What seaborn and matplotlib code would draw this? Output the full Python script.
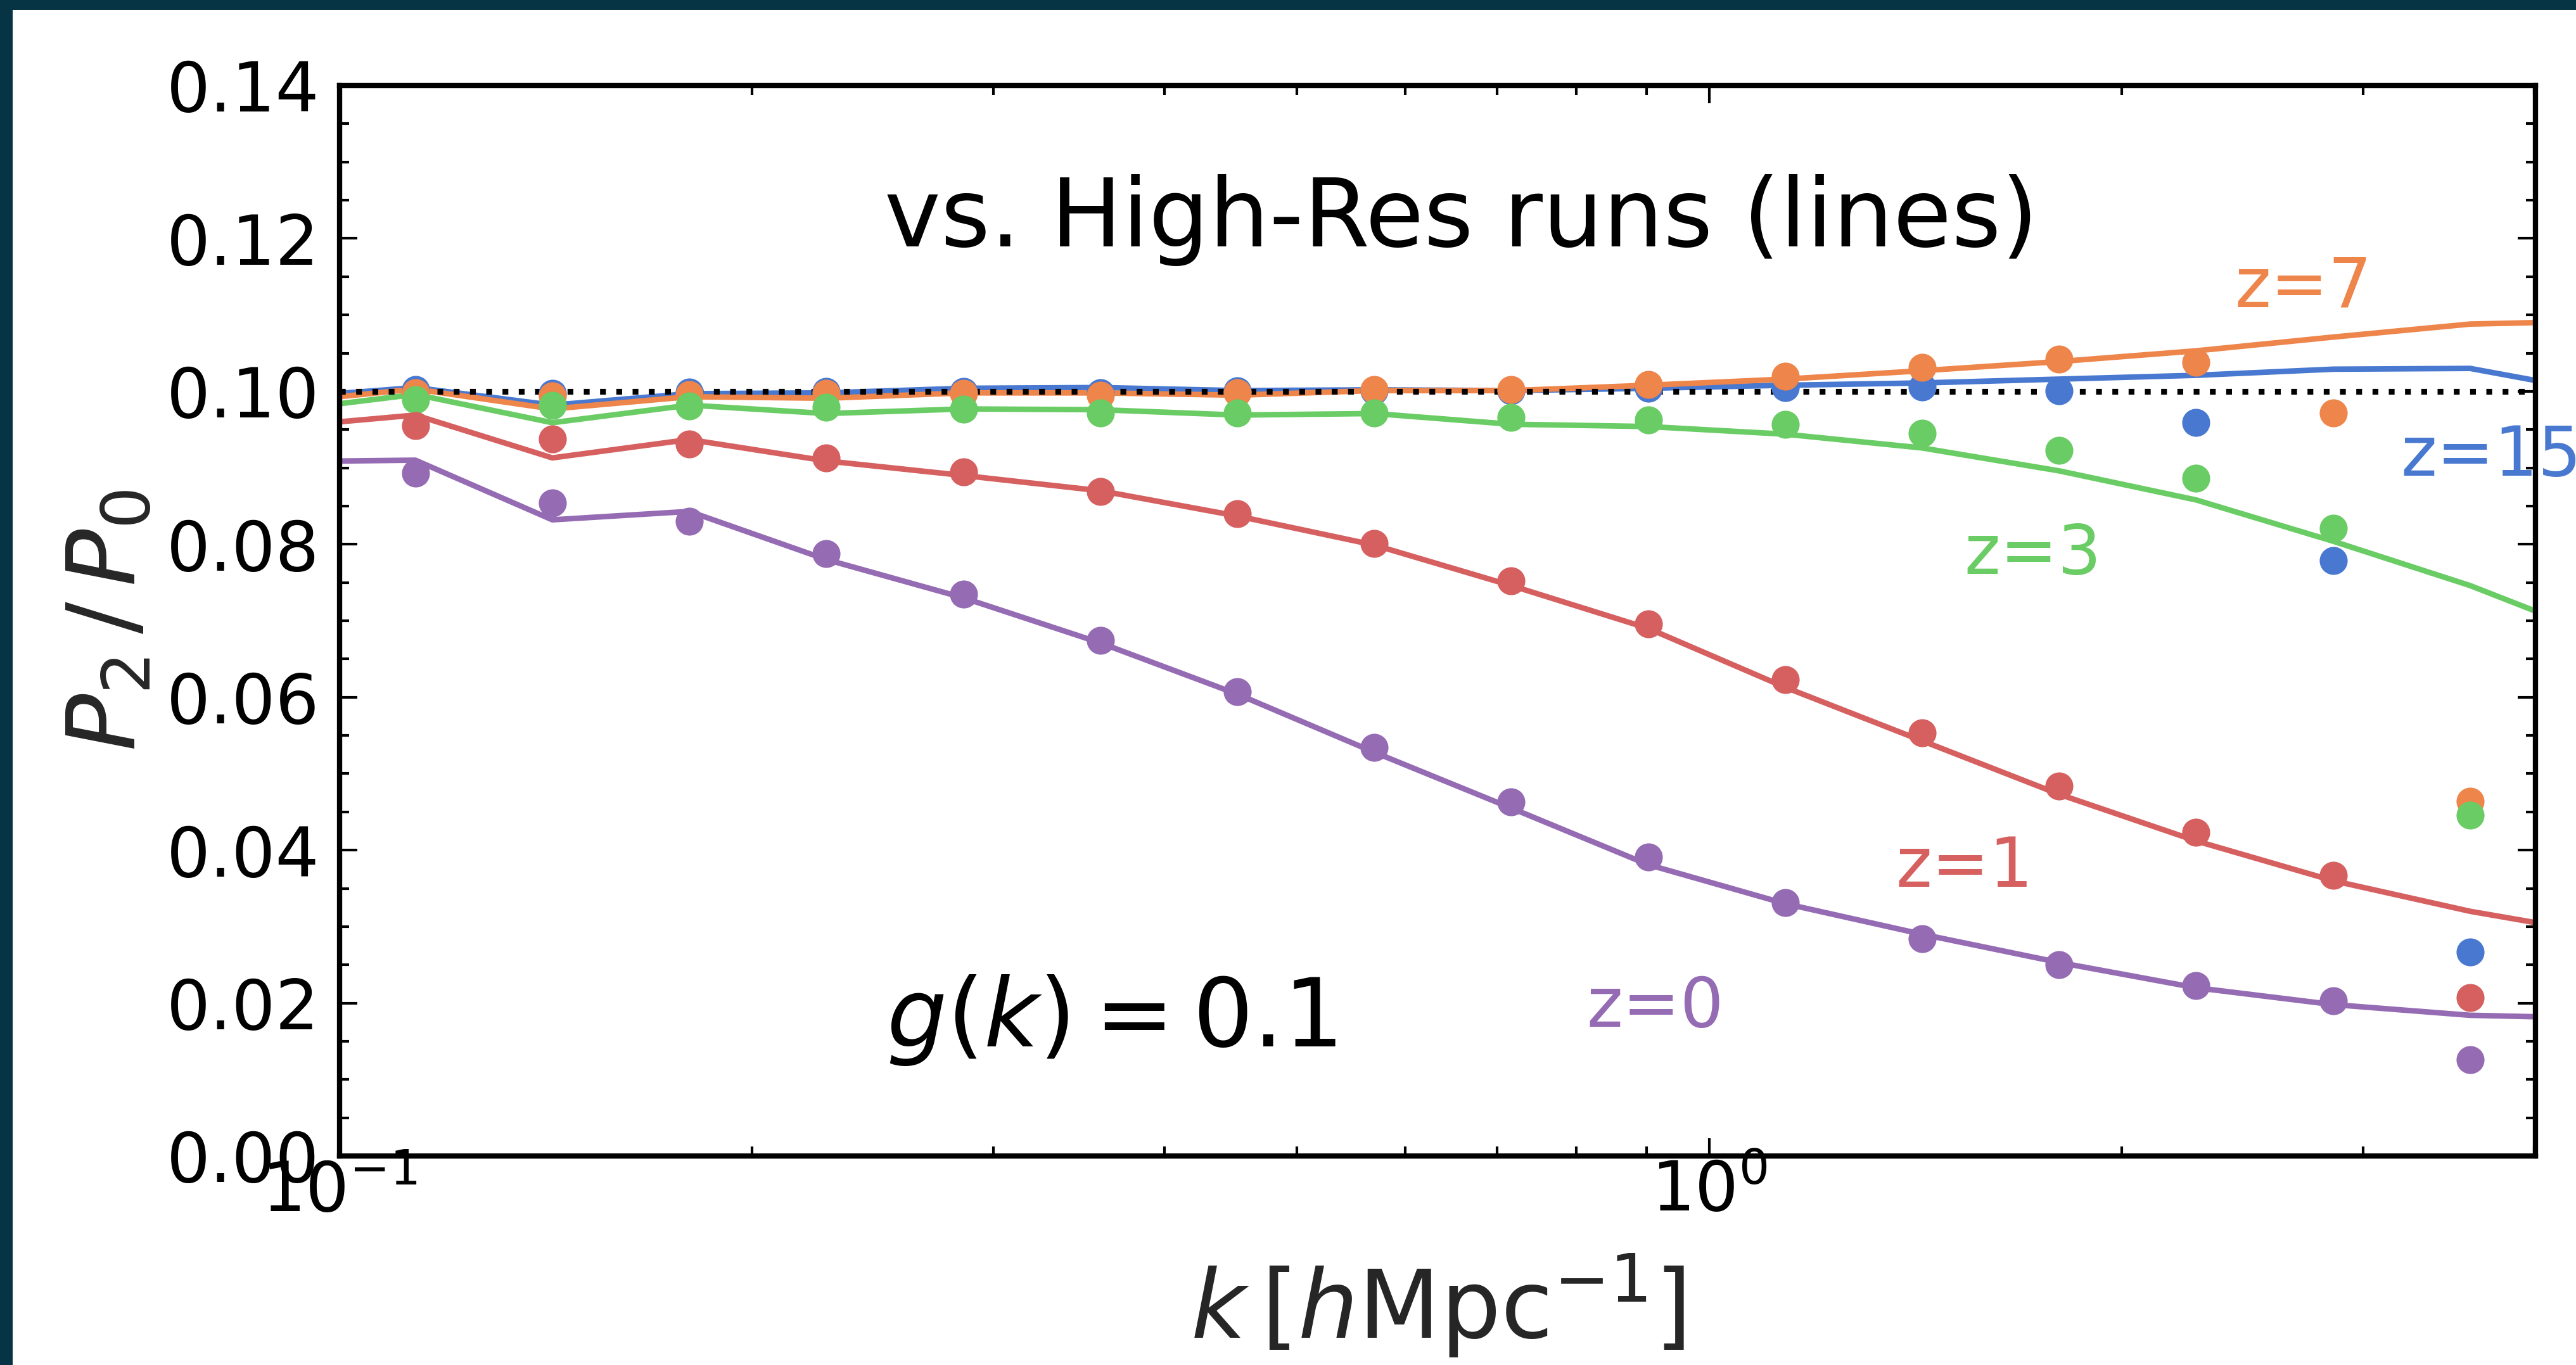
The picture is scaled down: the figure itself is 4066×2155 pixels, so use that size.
import numpy as np
import pandas as pd
import matplotlib
matplotlib.use("Agg")
import matplotlib.pyplot as plt
from matplotlib.patches import Rectangle
from matplotlib.ticker import MultipleLocator
import seaborn as sns

# ---------------- data ----------------
# wavenumber bins of the measured points [h/Mpc]
k_dots = [0.1136, 0.1430, 0.1800, 0.2267, 0.2854, 0.3593, 0.4523, 0.5694,
          0.7168, 0.9024, 1.136, 1.430, 1.801, 2.267, 2.854, 3.593]
# wavenumbers of the high-res run lines
k_lines = [0.0902, 0.1136, 0.1430, 0.1800, 0.2267, 0.2854, 0.3593, 0.4523,
           0.5694, 0.7168, 0.9024, 1.136, 1.430, 1.801, 2.267, 2.854, 3.593,
           4.523]

redshifts = ["z=15", "z=7", "z=3", "z=1", "z=0"]

dots_z15 = [0.1002, 0.0997, 0.0999, 0.1000, 0.1000, 0.0998, 0.1001, 0.1001,
            0.1001, 0.1004, 0.1005, 0.1006, 0.1001, 0.0959, 0.0779, 0.0267]
dots_z7 = [0.0998, 0.0994, 0.0996, 0.0997, 0.0997, 0.0995, 0.0998, 0.1002,
           0.1002, 0.1009, 0.1020, 0.1031, 0.1042, 0.1038, 0.0972, 0.0464]
dots_z3 = [0.0989, 0.0982, 0.0981, 0.0979, 0.0977, 0.0972, 0.0972, 0.0972,
           0.0966, 0.0963, 0.0957, 0.0945, 0.0923, 0.0886, 0.0821, 0.0446]
dots_z1 = [0.0955, 0.0938, 0.0931, 0.0913, 0.0895, 0.0869, 0.0840, 0.0801,
           0.0752, 0.0696, 0.0623, 0.0553, 0.0484, 0.0423, 0.0367, 0.0207]
dots_z0 = [0.0893, 0.0854, 0.0830, 0.0788, 0.0735, 0.0674, 0.0607, 0.0534,
           0.0463, 0.0391, 0.0331, 0.0284, 0.0250, 0.0223, 0.0203, 0.0126]

# error bars of the points
err_dots = [0.0016, 0.0010, 0.0007, 0.0005, 0.0004, 0.0004, 0.0003, 0.0003,
            0.0003, 0.0002, 0.0002, 0.0002, 0.0002, 0.0002, 0.0001, 0.0001]

line_z15 = [0.0991, 0.1005, 0.0982, 0.0997, 0.0998, 0.1004, 0.1005, 0.1001,
            0.1002, 0.1001, 0.1004, 0.1008, 0.1011, 0.1016, 0.1021, 0.1029,
            0.1030, 0.0997]
line_z7 = [0.0985, 0.1003, 0.0977, 0.0993, 0.0991, 0.0998, 0.0998, 0.0995,
           0.1001, 0.1001, 0.1008, 0.1016, 0.1027, 0.1039, 0.1053, 0.1071,
           0.1088, 0.1092]
line_z3 = [0.0974, 0.0996, 0.0959, 0.0982, 0.0971, 0.0977, 0.0976, 0.0969,
           0.0971, 0.0957, 0.0954, 0.0944, 0.0926, 0.0896, 0.0858, 0.0804,
           0.0746, 0.0676]
line_z1 = [0.0953, 0.0969, 0.0913, 0.0937, 0.0909, 0.0890, 0.0870, 0.0837,
           0.0799, 0.0746, 0.0690, 0.0613, 0.0543, 0.0473, 0.0412, 0.0360,
           0.0320, 0.0289]
line_z0 = [0.0908, 0.0910, 0.0832, 0.0843, 0.0780, 0.0730, 0.0671, 0.0604,
           0.0528, 0.0455, 0.0381, 0.0330, 0.0290, 0.0253, 0.0220, 0.0198,
           0.0184, 0.0180]

dots_all = [dots_z15, dots_z7, dots_z3, dots_z1, dots_z0]
lines_all = [line_z15, line_z7, line_z3, line_z1, line_z0]

# ---------------- style ----------------
sns.set_theme(style="ticks")
muted = sns.color_palette("muted")
colors = {"z=15": muted[0], "z=7": muted[1], "z=3": muted[2],
          "z=1": muted[3], "z=0": muted[4]}
plt.rcParams["font.family"] = ["DejaVu Sans"]
plt.rcParams["mathtext.fontset"] = "dejavusans"

W, H, DPI = 4066, 2155, 300
fig = plt.figure(figsize=(W / DPI, H / DPI), dpi=DPI)
fig.patch.set_facecolor("#073444")
fig.add_artist(Rectangle((20 / W, 0), 1, 1 - 16 / H, transform=fig.transFigure,
                         facecolor="white", edgecolor="none", zorder=-5))

ax = fig.add_axes([536 / W, 1 - 1825 / H, (4002 - 536) / W, (1825 - 135) / H])
ax.set_facecolor("white")

# high-res lines
rows = []
for z, vals in zip(redshifts, lines_all):
    for k, v in zip(k_lines, vals):
        rows.append({"k": k, "ratio": v, "z": z})
df_lines = pd.DataFrame(rows)
sns.lineplot(data=df_lines, x="k", y="ratio", hue="z", hue_order=redshifts,
             palette=colors, estimator=None, sort=False, legend=False,
             lw=2.1, ax=ax, zorder=2)

ax.axhline(0.1, color="black", ls=(0, (1, 1.8)), lw=2.2, zorder=2.5)

# measured points
for z, vals in zip(redshifts, dots_all):
    ax.errorbar(k_dots, vals, yerr=err_dots, fmt="o", color=colors[z],
                ms=10.6, mew=0, capsize=6.1, capthick=1.7, elinewidth=1.7,
                zorder=3)

ax.set_xscale("log")
ax.set_xlim(0.1, 4.01)
ax.set_ylim(0.0, 0.14)
ax.yaxis.set_major_locator(MultipleLocator(0.02))
ax.yaxis.set_minor_locator(MultipleLocator(0.005))
ax.yaxis.set_major_formatter(matplotlib.ticker.FormatStrFormatter("%.2f"))

for s in ax.spines.values():
    s.set_linewidth(2.0)
    s.set_color("black")
ax.tick_params(which="both", direction="in", top=True, right=True,
               colors="black", labelsize=26)
ax.tick_params(which="major", length=6.8, width=1.0)
ax.tick_params(which="minor", length=3.6, width=1.0)
ax.tick_params(axis="x", which="both", pad=1)
ax.tick_params(axis="y", which="both", pad=7.5)

ax.set_xlabel(r"$k\,[h\mathrm{Mpc}^{-1}]$", fontsize=36, labelpad=10)
ax.set_ylabel(r"$P_2\,/\,P_0$", fontsize=36, labelpad=4.6)

ax.text(0.5107, 0.85, "vs. High-Res runs (lines)", transform=ax.transAxes,
        ha="center", va="baseline", fontsize=36, color="black")
ax.text(0.249, 0.1024, r"$g(k) = 0.1$", transform=ax.transAxes,
        ha="left", va="baseline", fontsize=36, color="black")

zfs = 26
ax.text(0.863, 0.793, "z=7", transform=ax.transAxes, ha="left",
        va="baseline", fontsize=zfs, color=colors["z=7"])
ax.text(0.9386, 0.6355, "z=15", transform=ax.transAxes, ha="left",
        va="baseline", fontsize=zfs, color=colors["z=15"], clip_on=False)
ax.text(0.740, 0.544, "z=3", transform=ax.transAxes, ha="left",
        va="baseline", fontsize=zfs, color=colors["z=3"])
ax.text(0.7086, 0.2515, "z=1", transform=ax.transAxes, ha="left",
        va="baseline", fontsize=zfs, color=colors["z=1"])
ax.text(0.5678, 0.1207, "z=0", transform=ax.transAxes, ha="left",
        va="baseline", fontsize=zfs, color=colors["z=0"])

fig.savefig("out.png", dpi=DPI, facecolor=fig.get_facecolor())
